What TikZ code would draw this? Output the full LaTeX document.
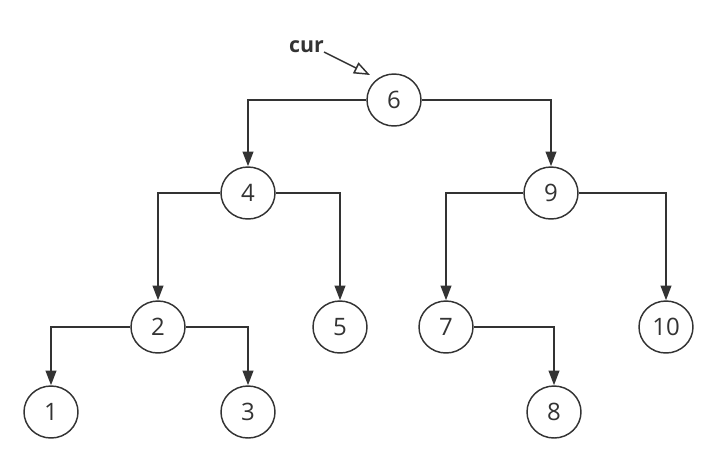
\documentclass[tikz,border=0pt]{standalone}
\usepackage{fontspec}
\setmainfont{Open Sans}
\usetikzlibrary{arrows.meta,shapes.geometric}
\definecolor{ink}{HTML}{333333}
\tikzset{
  keynode/.style={ellipse, draw=ink, text=ink, line width=1.1pt, inner sep=0pt,
    minimum width=40.5pt, minimum height=39pt, font=\fontsize{18}{21}\selectfont},
  link/.style={draw=ink, line width=1.4pt, -{Triangle[length=11pt,width=8pt]}},
  pointer/.style={draw=ink, line width=1.1pt, -{Triangle[open,length=12pt,width=9pt]}}
}
\begin{document}
\begin{tikzpicture}[x=0.75pt,y=0.75pt,yscale=-1,xscale=1]
        \useasboundingbox (0,0) rectangle (718,462);

        % Nodes
        \node[keynode] (n6) at (394,100) {6};
        \node[keynode] (n4) at (248,193) {4};
        \node[keynode] (n9) at (551,193) {9};
        \node[keynode] (n2) at (158,327) {2};
        \node[keynode] (n5) at (340,327) {5};
        \node[keynode] (n7) at (446,327) {7};
        \node[keynode] (n10) at (666,327) {10};
        \node[keynode] (n1) at (51,412) {1};
        \node[keynode] (n3) at (248,412) {3};
        \node[keynode] (n8) at (554,412) {8};

        % Text Node
        \node[anchor=base east, inner sep=0pt, text=ink, font=\fontsize{16}{19}\selectfont\bfseries] (cur) at (324,52) {cur};
        \coordinate (curtip) at (370,75);
        \draw[pointer] (cur.base east) -- (curtip);

        % Links
        \draw[link] (n6.west) -| (n4.north);
        \draw[link] (n6.east) -| (n9.north);
        \draw[link] (n4.west) -| (n2.north);
        \draw[link] (n4.east) -| (n5.north);
        \draw[link] (n9.west) -| (n7.north);
        \draw[link] (n9.east) -| (n10.north);
        \draw[link] (n2.west) -| (n1.north);
        \draw[link] (n2.east) -| (n3.north);
        \draw[link] (n7.east) -| (n8.north);
    \end{tikzpicture}
\end{document}
